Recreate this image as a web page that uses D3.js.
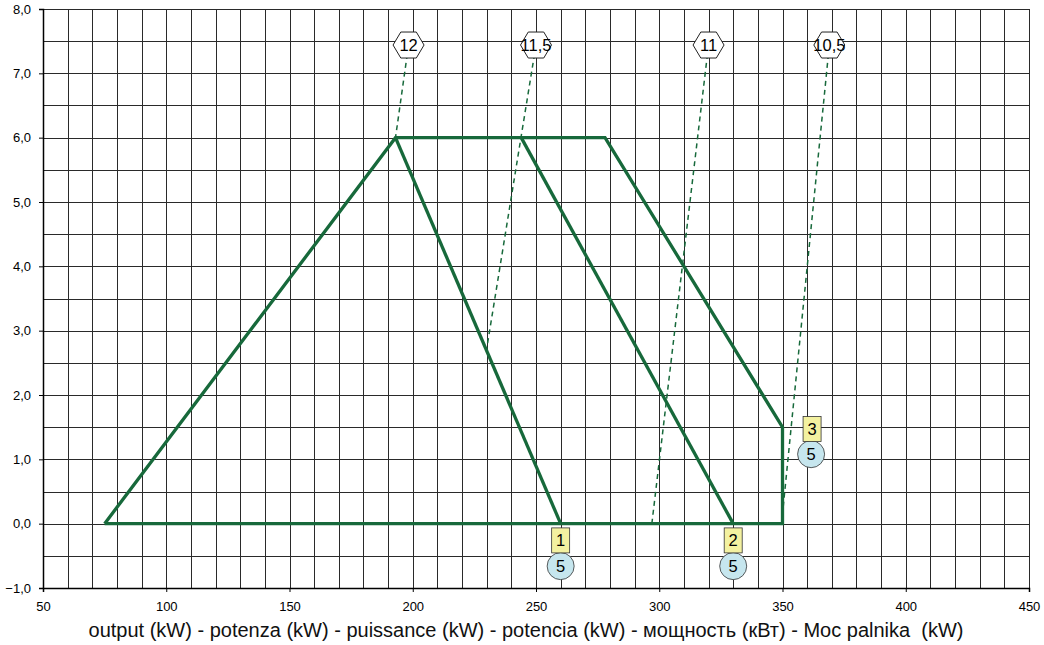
<!DOCTYPE html>
<meta charset="utf-8">
<style>
body { margin: 0; background: #fff; }
svg { display: block; font-family: "Liberation Sans", Arial, sans-serif; }
.grid line { stroke: #2a2a2a; stroke-width: 1.2; shape-rendering: crispEdges; }
.tick text { font-size: 13px; fill: #000; }
.title { font-size: 20px; fill: #111; white-space: pre; }
</style>
<svg id="chart" width="1044" height="645"></svg>
<script src="https://d3js.org/d3.v7.min.js"></script>
<script>

// working field outline (kW, mbar)
var outlineX = [75, 193, 278, 350, 350, 75];
var outlineY = [0, 6, 6, 1.5, 0, 0];

// inner curves for other heads
var curve1X = [193, 260], curve1Y = [6, 0];
var curve2X = [244, 330], curve2Y = [6, 0];

// dashed reference lines with hexagon labels
var hexLabels = ["12", "11,5", "11", "10,5"];
var hexX = [198.3, 250, 320, 369];
var hexY = [7.44, 7.44, 7.44, 7.44];
var dashEndX = [193, 230, 297, 350];
var dashEndY = [6, 2.72, 0, 0.15];

// numbered markers (square) with circle below
var markLabels = ["1", "2", "3"];
var markX = [260, 330, 362];
var markY = [-0.26, -0.26, 1.47];
var circLabels = ["5", "5", "5"];
var circX = [260, 330, 361.6];
var circY = [-0.66, -0.66, 1.08];

var xTicks = [50, 100, 150, 200, 250, 300, 350, 400, 450];
var yTicks = [-1, 0, 1, 2, 3, 4, 5, 6, 7, 8];
var xTitle = "output (kW) - potenza (kW) - puissance (kW) - potencia (kW) - мощность (кВт) - Moc palnika  (kW)";

var svg = d3.select("#chart"),
    pLeft = 43, pRight = 1029, pTop = 9, pBottom = 588,
    green = "#17693b";

var x = d3.scaleLinear().domain([50, 450]).range([pLeft, pRight]);
var y = d3.scaleLinear().domain([-1, 8]).range([pBottom, pTop]);

// grid
var grid = svg.append("g").attr("class", "grid");
grid.selectAll("line.v")
  .data(d3.range(50, 451, 10))
  .enter().append("line")
    .attr("x1", function(d) { return Math.round(x(d)) + 0.5; })
    .attr("x2", function(d) { return Math.round(x(d)) + 0.5; })
    .attr("y1", pTop).attr("y2", pBottom);
grid.selectAll("line.h")
  .data(d3.range(-1, 8.01, 0.5))
  .enter().append("line")
    .attr("y1", function(d) { return Math.round(y(d)) + 0.5; })
    .attr("y2", function(d) { return Math.round(y(d)) + 0.5; })
    .attr("x1", pLeft).attr("x2", pRight);

// axes
var fmt = function(d) { return d3.format(".1f")(d).replace(".", ","); };
svg.append("g")
    .attr("transform", "translate(" + pLeft + ",0)")
    .call(d3.axisLeft(y).tickValues(yTicks).tickFormat(fmt).tickSize(4).tickPadding(8));
svg.append("g")
    .attr("transform", "translate(0," + pBottom + ")")
    .call(d3.axisBottom(x).tickValues(xTicks).tickFormat(d3.format("d")).tickSize(4).tickPadding(10));
svg.selectAll(".domain").attr("stroke", "#000").attr("stroke-width", 1.5);
svg.selectAll(".tick line").attr("stroke", "#000");
svg.selectAll(".tick text").attr("font-family", null).attr("font-size", null);

svg.append("text")
    .attr("class", "title")
    .attr("x", 526).attr("y", 637)
    .attr("text-anchor", "middle")
    .text(xTitle);

// dashed lines
svg.append("g").selectAll("line")
  .data(hexLabels)
  .enter().append("line")
    .attr("x1", function(d, i) { return x(hexX[i]); })
    .attr("y1", function(d, i) { return y(hexY[i]); })
    .attr("x2", function(d, i) { return x(dashEndX[i]); })
    .attr("y2", function(d, i) { return y(dashEndY[i]); })
    .attr("stroke", green)
    .attr("stroke-width", 1.5)
    .attr("stroke-dasharray", "5,4");

// curves
var line = d3.line().x(function(d) { return x(d[0]); }).y(function(d) { return y(d[1]); });
var paths = [d3.zip(outlineX, outlineY), d3.zip(curve1X, curve1Y), d3.zip(curve2X, curve2Y)];
svg.append("g").selectAll("path")
  .data(paths)
  .enter().append("path")
    .attr("d", line)
    .attr("fill", "none")
    .attr("stroke", green)
    .attr("stroke-width", 3.3)
    .attr("stroke-linejoin", "miter");

// hexagons
var hw = 15.5, hh = 13;
var hex = svg.append("g").selectAll("g")
  .data(hexLabels)
  .enter().append("g")
    .attr("transform", function(d, i) { return "translate(" + x(hexX[i]) + "," + y(hexY[i]) + ")"; });
hex.append("path")
    .attr("d", "M" + (-hw) + ",0L" + (-hw / 2) + "," + (-hh) + "L" + (hw / 2) + "," + (-hh) +
               "L" + hw + ",0L" + (hw / 2) + "," + hh + "L" + (-hw / 2) + "," + hh + "Z")
    .attr("fill", "#fff")
    .attr("stroke", "#222")
    .attr("stroke-width", 1);
hex.append("text")
    .attr("text-anchor", "middle")
    .attr("dy", "0.36em")
    .attr("font-size", 16.5)
    .text(function(d) { return d; });

// markers
var marks = svg.append("g").selectAll("g")
  .data(markLabels)
  .enter().append("g");
marks.append("circle")
    .attr("cx", function(d, i) { return x(circX[i]); })
    .attr("cy", function(d, i) { return y(circY[i]); })
    .attr("r", 13.5)
    .attr("fill", "#c6e6ee")
    .attr("stroke", "#333")
    .attr("stroke-width", 0.8);
marks.append("text")
    .attr("x", function(d, i) { return x(circX[i]); })
    .attr("y", function(d, i) { return y(circY[i]); })
    .attr("text-anchor", "middle")
    .attr("dy", "0.36em")
    .attr("font-size", 16.5)
    .text(function(d, i) { return circLabels[i]; });
marks.append("rect")
    .attr("x", function(d, i) { return x(markX[i]) - 9; })
    .attr("y", function(d, i) { return y(markY[i]) - 12.5; })
    .attr("width", 18).attr("height", 25)
    .attr("fill", "#f3f1a0")
    .attr("stroke", "#333")
    .attr("stroke-width", 0.8);
marks.append("text")
    .attr("x", function(d, i) { return x(markX[i]); })
    .attr("y", function(d, i) { return y(markY[i]); })
    .attr("text-anchor", "middle")
    .attr("dy", "0.36em")
    .attr("font-size", 16.5)
    .text(function(d) { return d; });

</script>
